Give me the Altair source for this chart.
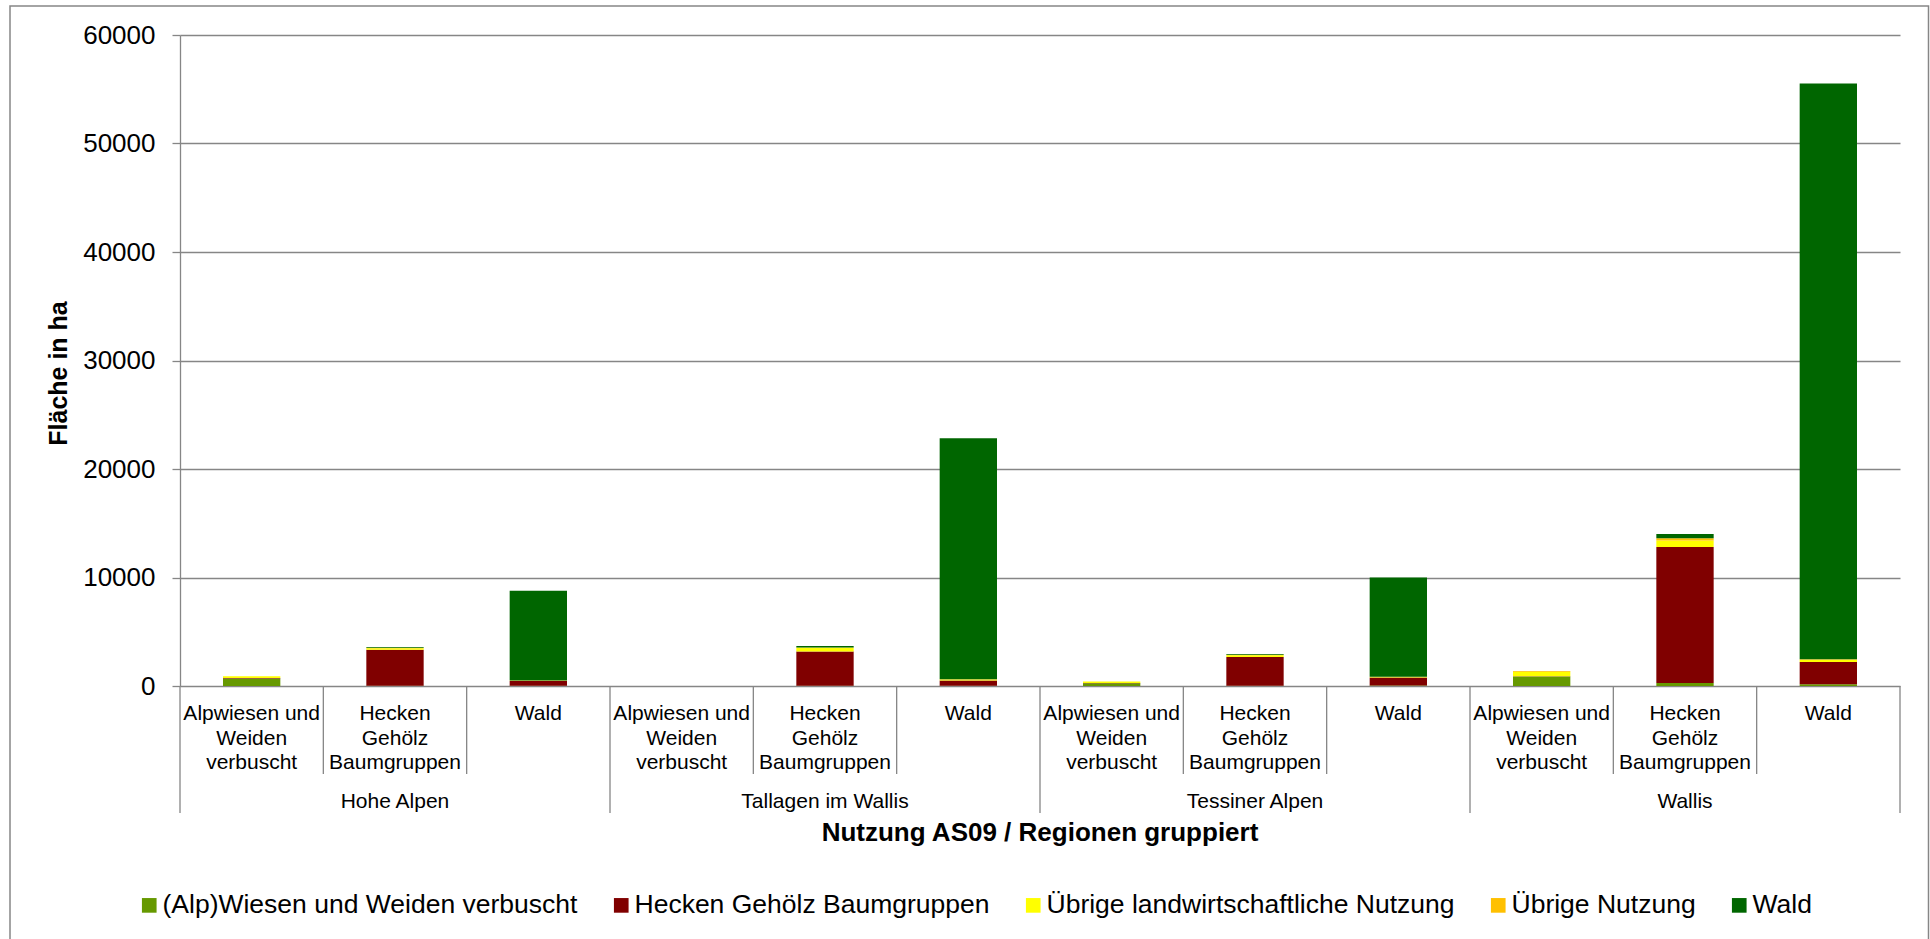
import altair as alt
import pandas as pd

# Categories: regions (outer level) and land-use classes (inner level)
regions = ["Hohe Alpen", "Tallagen im Wallis", "Tessiner Alpen", "Wallis"]
uses = ["Alpwiesen und Weiden verbuscht", "Hecken Gehölz Baumgruppen", "Wald"]
use_labels = ["Alpwiesen und\nWeiden\nverbuscht", "Hecken\nGehölz\nBaumgruppen", "Wald"]

# Stacked series (bottom to top) and their colours
series = [
    "(Alp)Wiesen und Weiden verbuscht",
    "Hecken Gehölz Baumgruppen",
    "Übrige landwirtschaftliche Nutzung",
    "Übrige Nutzung",
    "Wald",
]
colors = ["#669900", "#800000", "#FFFF00", "#FFC000", "#006600"]

# Area in ha, ordered region by region, each with the three land-use classes
alpwiesen = [700, 30, 30, 0, 20, 20, 250, 30, 40, 880, 280, 150]
hecken = [40, 3300, 430, 0, 3160, 490, 30, 2650, 740, 30, 12540, 2060]
uebrige_lw = [150, 150, 30, 0, 350, 100, 130, 150, 60, 400, 600, 200]
uebrige = [20, 40, 10, 0, 20, 20, 10, 40, 20, 70, 200, 60]
wald = [0, 80, 8270, 0, 130, 22200, 0, 80, 9150, 0, 400, 53050]
values = [alpwiesen, hecken, uebrige_lw, uebrige, wald]

y_ticks = [0, 10000, 20000, 30000, 40000, 50000, 60000]
y_title = "Fläche in ha"
x_title = "Nutzung AS09 / Regionen gruppiert"

FONT = "Liberation Sans"
GREY = "#868686"
W, H = 1720, 651

keys = [f"{r} | {u}" for r in regions for u in uses]

rows = []
for si, s in enumerate(series):
    for ki, k in enumerate(keys):
        rows.append({"key": k, "series": s, "order": si, "value": values[si][ki]})
df = pd.DataFrame(rows)

x_scale = alt.Scale(domain=keys, paddingInner=0, paddingOuter=0)


def xenc(band=0.5):
    return alt.X("key:N", scale=x_scale, sort=keys, axis=None, bandPosition=band)


bars = alt.Chart(df).mark_bar(width=alt.RelativeBandSize(0.4)).encode(
    x=alt.X("key:N", scale=x_scale, sort=keys, axis=None),
    y=alt.Y(
        "value:Q",
        stack="zero",
        scale=alt.Scale(domain=[0, 60000], nice=False),
        axis=alt.Axis(
            values=y_ticks,
            format="d",
            title=y_title,
            titleFontSize=25,
            titleFontWeight="bold",
            titleAngle=270,
            titleAlign="center",
            titleBaseline="alphabetic",
            titleX=-114,
            titleY=338,
            titleColor="black",
            grid=True,
            gridColor=GREY,
            gridWidth=1.3,
            domainColor=GREY,
            domainWidth=1.3,
            tickColor=GREY,
            tickWidth=1.3,
            tickSize=8,
            labelFontSize=26,
            labelPadding=17,
            labelColor="black",
        ),
    ),
    color=alt.Color(
        "series:N",
        scale=alt.Scale(domain=series, range=colors),
        legend=alt.Legend(
            title=None,
            orient="none",
            legendX=-44,
            legendY=857,
            direction="horizontal",
            symbolType="square",
            symbolSize=215,
            symbolStrokeWidth=0,
            labelFontSize=26.5,
            labelOffset=0,
            labelLimit=0,
            labelColor="black",
            columnPadding=30,
            padding=0,
        ),
    ),
    order=alt.Order("order:Q"),
)

# Category separators below the plot
sep_df = pd.DataFrame({
    "key": keys,
    "first": [i % len(uses) == 0 for i in range(len(keys))],
})
inner_sep = alt.Chart(sep_df).transform_filter("!datum.first").mark_rule(
    color=GREY, strokeWidth=1.3
).encode(x=xenc(0), y=alt.value(H), y2=alt.value(H + 88))
group_sep = alt.Chart(sep_df).transform_filter("datum.first").mark_rule(
    color=GREY, strokeWidth=1.3
).encode(x=xenc(0), y=alt.value(H), y2=alt.value(H + 127))
end_sep = alt.Chart(sep_df.tail(1)).mark_rule(
    color=GREY, strokeWidth=1.3
).encode(x=xenc(1), y=alt.value(H), y2=alt.value(H + 127))

# Land-use labels (inner level)
lab_df = pd.DataFrame({"key": keys, "label": [use_labels[i % len(uses)] for i in range(len(keys))]})
inner_labels = alt.Chart(lab_df).mark_text(
    font=FONT, fontSize=21, lineBreak="\n", lineHeight=24.5,
    baseline="top", align="center", color="black",
).encode(x=xenc(), y=alt.value(H + 17), text="label:N")

# Region labels (outer level), centred on each group
grp_df = pd.DataFrame({"key": [f"{r} | {uses[1]}" for r in regions], "label": regions})
group_labels = alt.Chart(grp_df).mark_text(
    font=FONT, fontSize=21, baseline="alphabetic", align="center", color="black",
).encode(x=xenc(), y=alt.value(H + 122), text="label:N")

# Horizontal axis title
xt_df = pd.DataFrame({"label": [x_title]})
x_title_mark = alt.Chart(xt_df).mark_text(
    font=FONT, fontSize=26, fontWeight="bold", baseline="alphabetic",
    align="center", color="black",
).encode(x=alt.value(W / 2), y=alt.value(806), text="label:N")

# Chart frame
frame = alt.Chart(xt_df).mark_rect(
    fill=None, stroke=GREY, strokeWidth=1.5
).encode(x=alt.value(-170), x2=alt.value(1748.5), y=alt.value(-29), y2=alt.value(960))

chart = alt.layer(
    frame, bars, inner_sep, group_sep, end_sep, inner_labels, group_labels, x_title_mark
).properties(
    width=W,
    height=H,
    padding={"left": 180, "top": 35, "right": 30, "bottom": 253},
    autosize=alt.AutoSizeParams(type="none"),
    background="white",
).configure(font=FONT).configure_view(strokeWidth=0)

chart.save("out.html", embed_options={"renderer": "svg", "actions": False})
